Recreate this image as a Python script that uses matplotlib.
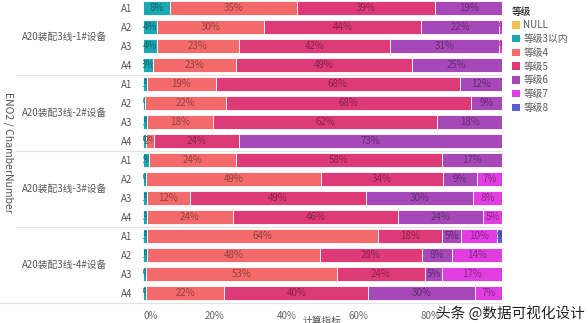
import numpy as np
import matplotlib.pyplot as plt
import matplotlib.colors as mcolors
import matplotlib.transforms as mtransforms
from matplotlib.patches import Patch

plt.rcParams['font.family'] = ['Noto Sans CJK SC', 'DejaVu Sans']

groups = ['A20装配3线-1#设备', 'A20装配3线-2#设备', 'A20装配3线-3#设备', 'A20装配3线-4#设备']
chambers = ['A1', 'A2', 'A3', 'A4']
levels = ['NULL', '等级3以内', '等级4', '等级5', '等级6', '等级7', '等级8']
colors = ['#f2c14e', '#1ba8b2', '#f46a6a', '#df3a78', '#a648b8', '#e03ee0', '#5a5fd6']

# share (%) per row, rows in order group1 A1..A4, group2 A1..A4, ...
lvl_null = [0] * 16
lvl3 = [7.6, 3.8, 3.8, 2.9, 1.0, 0.6, 1.2, 0.9, 1.6, 0.7, 1.0, 1.0, 1.0, 1.0, 0.7, 0.7]
lvl4 = [35.2, 30.0, 23.0, 22.9, 19.2, 22.4, 18.4, 2.3, 24.2, 48.9, 12.1, 24.2, 64.4, 48.3, 53.4, 22.0]
lvl5 = [38.6, 43.7, 41.9, 49.0, 68.0, 68.3, 62.4, 23.6, 57.6, 34.0, 49.0, 45.7, 17.8, 28.4, 24.4, 40.0]
lvl6 = [18.6, 21.6, 30.6, 25.2, 11.8, 8.7, 18.0, 73.1, 16.6, 9.3, 29.9, 23.9, 5.4, 8.4, 4.8, 29.9]
lvl7 = [0, 0.9, 0.7, 0, 0, 0, 0, 0, 0, 7.1, 8.1, 5.3, 9.9, 13.9, 16.7, 7.4]
lvl8 = [0] * 12 + [1.6, 0, 0, 0]
series = [lvl_null, lvl3, lvl4, lvl5, lvl6, lvl7, lvl8]

W, H = 588, 323
fig = plt.figure(figsize=(W / 100, H / 100), dpi=100)
ax = fig.add_axes([143 / W, 1 - 302.5 / H, 359 / W, 304 / H])

rows = np.arange(16)
bh = 0.72
left = np.zeros(16)
for vals, col in zip(series, colors):
    vals = np.array(vals, dtype=float)
    ax.barh(rows, vals, left=left, height=bh, color=col,
            edgecolor='white', linewidth=0.6)
    dark = tuple(c * 0.6 for c in mcolors.to_rgb(col))
    for v, l, r in zip(vals, left, rows):
        if v <= 0:
            continue
        t = ax.text(l + v / 2, r, f'{round(v)}%', ha='center', va='center',
                    fontsize=7, color=dark)
        # keep label inside its own segment, like the original
        box = mtransforms.Bbox.from_bounds(l, r - bh / 2, v, bh)
        t.set_clip_box(mtransforms.TransformedBbox(box, ax.transData))
        t.set_clip_on(True)
    left += vals

ax.set_xlim(0, 100)
ax.set_ylim(15.5, -0.5)
for s in ax.spines.values():
    s.set_visible(False)
ax.set_yticks(rows)
ax.set_yticklabels(chambers * 4, fontsize=7, color='#555555')
ax.tick_params(axis='y', length=0, pad=8)
ax.set_xticks([0, 20, 40, 60, 80])
ax.set_xticklabels(['0%', '20%', '40%', '60%', '80%'], fontsize=7, color='#666666')
ax.get_xticklabels()[0].set_ha('left')
ax.tick_params(axis='x', length=0, pad=6)

tr = mtransforms.blended_transform_factory(fig.transFigure, ax.transData)
for i, g in enumerate(groups):
    ax.text(65 / W, 4 * i + 1.5, g, transform=tr, ha='center', va='center',
            fontsize=7, color='#555555')
for y, x0 in zip([3.5, 7.5, 11.5, 15.5], [16, 16, 16, 0]):
    ax.plot([x0 / W, 502 / W], [y, y], transform=tr, color='#e2e2e2',
            linewidth=0.8, clip_on=False)

fig.text(8 / W, 1 - 152 / H, 'ENO2 / ChamberNumber', rotation=-90,
         ha='center', va='center', fontsize=7.5, color='#555555')
fig.text(322 / W, 1 - 321 / H, '计算指标', ha='center', va='center',
         fontsize=7, color='#555555')

handles = [Patch(facecolor=c, edgecolor='none') for c in colors]
fig.legend(handles, levels, loc='upper left', bbox_to_anchor=(503 / W, 1 + 2 / H),
           frameon=False, title='等级', fontsize=7, title_fontsize=7,
           handlelength=0.8, handleheight=0.8, handletextpad=0.4,
           labelspacing=0.38, alignment='left', labelcolor='#555555')

fig.text(585 / W, 1 - 313 / H, '头条 @数据可视化设计', ha='right', va='center',
         fontsize=10.5, color='#222222')

fig.savefig('out.png', dpi=100)
